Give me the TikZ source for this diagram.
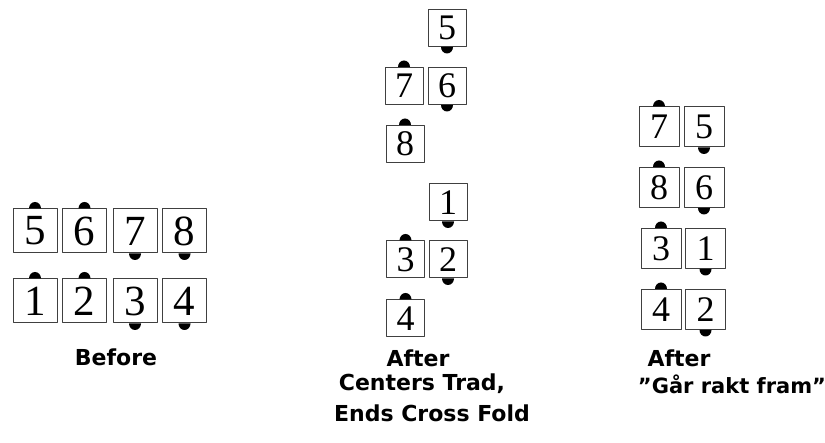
\documentclass[tikz,border=0pt]{standalone}
\usepackage{fontspec}
\setmainfont{Liberation Serif}
\newfontfamily\labfont{DejaVu Sans}
\tikzset{
  pg/.style={draw=black!75, line width=1pt, fill=white, inner sep=0pt},
  big/.style={pg, minimum width=44pt, minimum height=44pt, font=\fontsize{43}{43}\selectfont},
  small/.style={pg, minimum width=38pt, minimum height=37pt, font=\fontsize{36}{36}\selectfont},
  mid/.style={pg, minimum width=40pt, minimum height=40pt, font=\fontsize{36}{36}\selectfont},
  lab/.style={inner sep=1pt, font=\labfont\bfseries\fontsize{22}{22}\selectfont}
}
\begin{document}
\begin{tikzpicture}[x=1pt, y=-1pt, line join=round, line cap=round]
\useasboundingbox (0,0) rectangle (825,443);
% before
\foreach \n/\x/\y in {5/35/231,6/84.5/231,7/135/231,8/184.5/231,1/35/301,2/84.5/301,3/135/301,4/184.5/301}
  \node[big] (b\n) at (\x,\y) {\n};
% after, centers trad
\foreach \n/\x/\y in {5/447/28,7/404/86,6/447/86,8/405/144,1/448/202.5,3/405.5/259.5,2/448/259.5,4/405.5/318.5}
  \node[small] (m\n) at (\x,\y) {\n};
% after, gar rakt fram
\foreach \n/\x/\y in {7/659/127,5/704/127,8/659/187.5,6/704/187.5,3/661/248.5,1/705.5/248.5,4/661/309.5,2/705.5/309.5}
  \node[mid] (r\n) at (\x,\y) {\n};
% dots on top
\foreach \p in {b5,b6,b1,b2,m7,m8,m3,m4,r7,r8,r3,r4}
  \fill ([xshift=-6pt]\p.north) arc[start angle=180, end angle=0, x radius=6pt, y radius=6.5pt] -- cycle;
% dots below
\foreach \p in {b7,b8,b3,b4,m5,m6,m1,m2,r5,r6,r1,r2}
  \fill ([xshift=-6pt]\p.south) arc[start angle=180, end angle=360, x radius=6pt, y radius=6.5pt] -- cycle;
% labels
\node[lab] (before) at (116,357) {Before};
\node[lab] (after1) at (418,358) {After};
\node[lab] (ctrad) at (422,384) {Centers Trad,};
\node[lab] (ecross) at (432,413) {Ends Cross Fold};
\node[lab] (after2) at (679,358) {After};
\node[lab, font=\labfont\bfseries\fontsize{21}{21}\selectfont] (gar) at (732,384) {”Går rakt fram”};
\end{tikzpicture}
\end{document}
